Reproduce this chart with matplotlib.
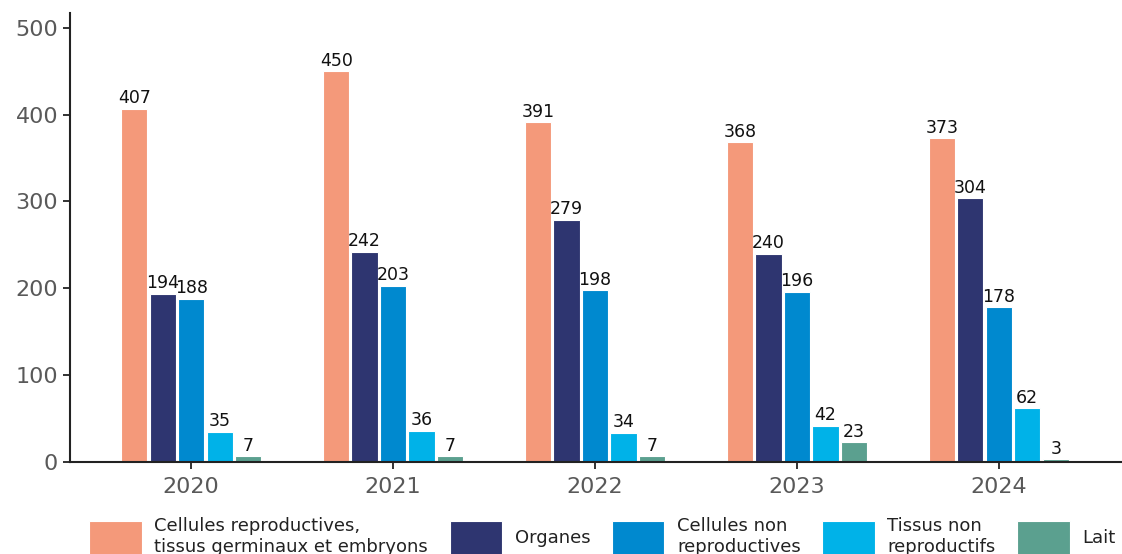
import numpy as np
import matplotlib.pyplot as plt
from matplotlib import rc

rc('font', **{'family': 'sans-serif', 'sans-serif': ['DejaVu Sans']})

years = ['2020', '2021', '2022', '2023', '2024']
series = ['Cellules reproductives,\ntissus germinaux et embryons', 'Organes',
          'Cellules non\nreproductives', 'Tissus non\nreproductifs', 'Lait']
cellules_repro = [407, 450, 391, 368, 373]
organes = [194, 242, 279, 240, 304]
cellules_non_repro = [188, 203, 198, 196, 178]
tissus_non_repro = [35, 36, 34, 42, 62]
lait = [7, 7, 7, 23, 3]
colors = ['#F4997A', '#2E3570', '#0089CF', '#00B2E8', '#5BA08F']

values = [cellules_repro, organes, cellules_non_repro, tissus_non_repro, lait]

fig = plt.figure(figsize=(11.22, 5.54), dpi=100)
ax = fig.add_axes([0.0624, 0.166, 0.9376, 0.8105])

x = np.arange(len(years))
step = 0.141
width = 0.13
for i, (vals, name, c) in enumerate(zip(values, series, colors)):
    pos = x + (i - 2) * step
    bars = ax.bar(pos, vals, width, color=c, edgecolor='white', linewidth=0.8, label=name)
    for b, v in zip(bars, vals):
        ax.annotate(str(v), (b.get_x() + b.get_width() / 2, v), xytext=(0, 1),
                    textcoords='offset points', ha='center', va='bottom',
                    fontsize=12.5, color='#111111')

ax.set_xlim(-0.6, 4.61)
ax.set_ylim(0, 517)
ax.set_yticks([0, 100, 200, 300, 400, 500])
ax.set_xticks(x)
ax.set_xticklabels(years)
ax.tick_params(axis='both', labelsize=16, labelcolor='#595959', color='#222222',
               length=5, width=1.3)
ax.tick_params(axis='x', pad=6)
for s in ['top', 'right']:
    ax.spines[s].set_visible(False)
for s in ['left', 'bottom']:
    ax.spines[s].set_linewidth(1.5)
    ax.spines[s].set_color('#222222')

leg = fig.legend(loc='upper center', bbox_to_anchor=(0.537, 0.096), ncol=5, frameon=False,
                 fontsize=13, handlelength=2.9, handleheight=2.6, columnspacing=1.2,
                 handletextpad=0.7, labelspacing=0.2)
for t in leg.get_texts():
    t.set_color('#222222')

fig.savefig('out.png', dpi=100)
